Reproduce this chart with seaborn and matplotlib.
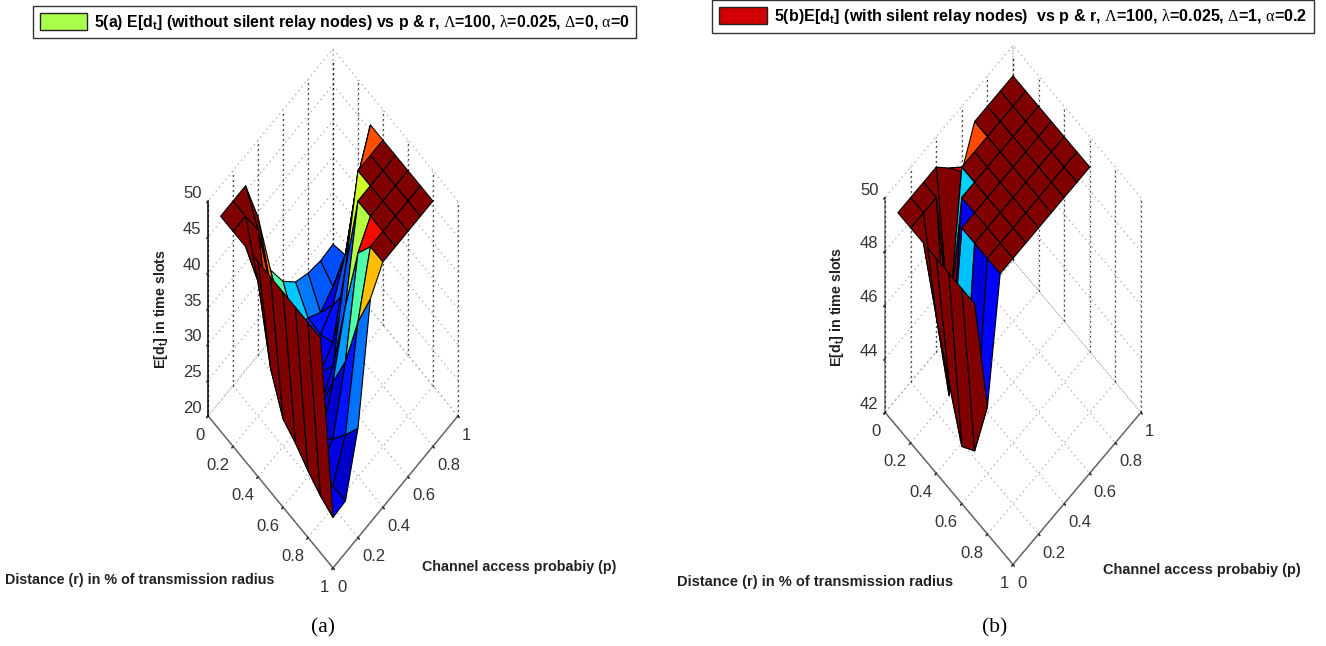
import numpy as np
import matplotlib
matplotlib.use("Agg")
import matplotlib.pyplot as plt
from matplotlib.patches import Patch
import seaborn as sns

# ---- data ----------------------------------------------------------------
P_VALUES = [0.0, 0.1, 0.2, 0.3, 0.4, 0.5, 0.6, 0.7, 0.8, 0.9]

R_VALUES_A = [0.1, 0.2, 0.3, 0.4, 0.5, 0.6, 0.7, 0.8, 0.9]
A_R1 = [50, 50, 50, 43.5, 34.0, 30.3, 28.1, 27.2, 26.8, 27.0]
A_R2 = [50, 50, 46.0, 36.0, 29.0, 26.0, 25.2, 23.8, 25.3, 27.6]
A_R3 = [50, 43.0, 33.0, 28.0, 25.0, 24.0, 25.0, 27.0, 32.0, 40.7]
A_R4 = [50, 33.0, 27.0, 24.5, 23.5, 24.0, 26.0, 31.0, 45.0, 50]
A_R5 = [50, 28.1, 25.0, 23.5, 23.5, 27.0, 38.5, 50, 50, 50]
A_R6 = [50, 26.8, 24.0, 23.0, 29.0, 37.5, 50, 50, 50, 50]
A_R7 = [50, 25.1, 23.5, 25.3, 34.0, 47.0, 50, 50, 50, 50]
A_R8 = [50, 23.7, 23.0, 28.0, 41.6, 50, 50, 50, 50, 50]
A_R9 = [50, 22.8, 23.0, 31.0, 47.0, 50, 50, 50, 50, 50]

R_VALUES_B = [0.1, 0.2, 0.3, 0.4, 0.5, 0.6, 0.7]
B_R1 = [50, 50, 50, 50, 49.4, 48.7, 50, 50, 50, 50]
B_R2 = [50, 50, 50, 44.9, 50, 50, 50, 50, 50, 50]
B_R3 = [50, 46.7, 43.2, 50, 50, 50, 50, 50, 50, 50]
B_R4 = [50, 44.8, 50, 50, 50, 50, 50, 50, 50, 50]
B_R5 = [50, 43.0, 50, 50, 50, 50, 50, 50, 50, 50]
B_R6 = [50, 43.4, 50, 50, 50, 50, 50, 50, 50, 50]
B_R7 = [50, 45.6, 50, 50, 50, 50, 50, 50, 50, 50]

PLANAR_TICKS = [0, 0.2, 0.4, 0.6, 0.8, 1]
PLANAR_LABELS = ["0", "0.2", "0.4", "0.6", "0.8", "1"]
Z_TICKS_A = [20, 25, 30, 35, 40, 45, 50]
Z_TICKS_B = [42, 44, 46, 48, 50]

LEGEND_A = (r"5(a) E[d$_{\mathbf{t}}$] (without silent relay nodes) vs p & r, "
            r"$\mathrm{\Lambda}$=100, $\mathrm{\lambda}$=0.025, $\mathrm{\Delta}$=0, $\mathrm{\alpha}$=0")
LEGEND_B = (r"5(b)E[d$_{\mathbf{t}}$] (with silent relay nodes)  vs p & r, "
            r"$\mathrm{\Lambda}$=100, $\mathrm{\lambda}$=0.025, $\mathrm{\Delta}$=1, $\mathrm{\alpha}$=0.2")
ZLABEL = r"E[d$_{\mathbf{t}}$] in time slots"
RLABEL = "Distance (r) in % of transmission radius"
PLABEL = "Channel access probabiy (p)"

# ---- style ---------------------------------------------------------------
sns.set_theme(style="white")
plt.rcParams["font.family"] = ["Liberation Sans", "DejaVu Sans"]
plt.rcParams["mathtext.fontset"] = "custom"
plt.rcParams["mathtext.rm"] = "Liberation Serif"
plt.rcParams["mathtext.it"] = "Liberation Serif:italic"
plt.rcParams["mathtext.bf"] = "Liberation Sans:bold"
JET = matplotlib.colormaps["jet"]

FW, FH = 1326, 646
fig = plt.figure(figsize=(FW / 100, FH / 100), dpi=100, facecolor="white")


def panel(cx, top_z, base_y, half_w, half_h, rows, r_vals, z_ticks, vmin, vmax, zcolor):
    """cx: pixel x of the centre, top_z/base_y: pixel y of the z axis ends."""
    W = 297.0 * half_w / 125.0
    H = 0.185 * (half_h * 2 / 0.11003)
    center_y = (top_z + base_y) / 2
    left = cx - 0.095 / 0.185 * W
    bottom_px = center_y + 0.095 / 0.185 * H
    ax = fig.add_axes([left / FW, 1 - bottom_px / FH, W / FW, H / FH],
                      projection="3d", computed_zorder=False)
    ax.apply_aspect = lambda position=None: None
    ax.patch.set_alpha(0)
    ax.set_proj_type("ortho")
    ax.set_box_aspect((1, 1, 1))
    ax.view_init(elev=45, azim=-45)
    ax.set_xlim(0, 1)
    ax.set_ylim(0, 1)
    ax.set_zlim(z_ticks[0], z_ticks[-1])
    ax.set_xticks(PLANAR_TICKS, PLANAR_LABELS)
    ax.set_yticks(PLANAR_TICKS, PLANAR_LABELS)
    ax.set_zticks(z_ticks)
    ax.tick_params(labelsize=12, labelcolor="#333333", colors="#333333")
    ax.tick_params(axis="x", pad=-3.2)
    ax.tick_params(axis="y", pad=-3.2)
    ax.tick_params(axis="z", pad=-4)
    ax.zaxis.set_ticks_position("lower")
    for lab in ax.get_xticklabels():
        lab.set_ha("right")
    for lab in ax.get_yticklabels():
        lab.set_ha("left")
    for lab in ax.get_zticklabels():
        lab.set_ha("right")
        lab.set_va("bottom")
    for axis in (ax.xaxis, ax.yaxis, ax.zaxis):
        axis.set_pane_color((1, 1, 1, 0))
        axis.pane.set_edgecolor((1, 1, 1, 0))
        axis._axinfo["grid"].update(color="#a8a8a8", linestyle=(0, (1, 3)), linewidth=0.9)
        axis._axinfo["tick"].update(inward_factor=0.12, outward_factor=0.0)
        axis.line.set_color("#666666")
        axis.line.set_linewidth(1.1)
    ax.zaxis.line.set_color(zcolor)

    # dotted verticals on the two back walls
    zs = [z_ticks[0], z_ticks[-1]]
    for t in PLANAR_TICKS:
        ax.plot([0, 0], [t, t], zs, color="black", ls=(0, (1, 3)), lw=0.9, zorder=1)
        ax.plot([t, t], [1, 1], zs, color="black", ls=(0, (1, 3)), lw=0.9, zorder=1)

    R, Pm = np.meshgrid(r_vals, P_VALUES, indexing="ij")
    Z = np.array(rows, dtype=float)
    colors = JET(np.clip((Z - vmin) / (vmax - vmin), 0, 1))
    ax.plot_surface(R, Pm, Z, facecolors=colors, rstride=1, cstride=1, shade=False,
                    edgecolor="black", linewidth=0.8, zorder=3)
    return ax


ax_a = panel(333, 202, 415, 125, 152,
             [A_R1, A_R2, A_R3, A_R4, A_R5, A_R6, A_R7, A_R8, A_R9], R_VALUES_A,
             Z_TICKS_A, 21, 50, "black")
ax_b = panel(1013, 197, 413, 128, 152,
             [B_R1, B_R2, B_R3, B_R4, B_R5, B_R6, B_R7], R_VALUES_B,
             Z_TICKS_B, 42.4, 50, "#777777")


def ftext(x, y, s, size=10.3, **kw):
    return fig.text(x / FW, 1 - y / FH, s, fontsize=size, fontweight="bold",
                    color="#222222", va="center", **kw)


ftext(161, 309, ZLABEL, rotation=90, ha="center")
ftext(837, 307, ZLABEL, rotation=90, ha="center")
ftext(5, 580, RLABEL, ha="left")
ftext(677, 582, RLABEL, size=10.55, ha="left")
ftext(422, 567, PLABEL, ha="left")
ftext(1103, 570, PLABEL, size=10.45, ha="left")
for cap_x, cap in ((323, "(a)"), (995, "(b)")):
    fig.text(cap_x / FW, 1 - 628 / FH, cap, family="Liberation Serif", fontsize=15.5,
             color="black", ha="center", va="center")


def top_legend(x, y, colour, text, size):
    leg = fig.legend(handles=[Patch(facecolor=colour, edgecolor="#222222", linewidth=1.0)],
                     labels=[text], loc="upper left", bbox_to_anchor=(x / FW, 1 - y / FH),
                     fancybox=False, framealpha=1, edgecolor="#333333", borderaxespad=0,
                     handlelength=3.0, handleheight=1.25, handletextpad=0.42, borderpad=0.42,
                     prop=dict(family="Liberation Sans", weight="bold", size=size))
    leg.get_texts()[0].set_color("black")
    leg.get_frame().set_linewidth(1.0)
    return leg


top_legend(33, 6, "#AAFF4D", LEGEND_A, 11.45)
top_legend(712, 0, "#D00000", LEGEND_B, 11.65)

fig.savefig("out.png", dpi=100, facecolor="white")
